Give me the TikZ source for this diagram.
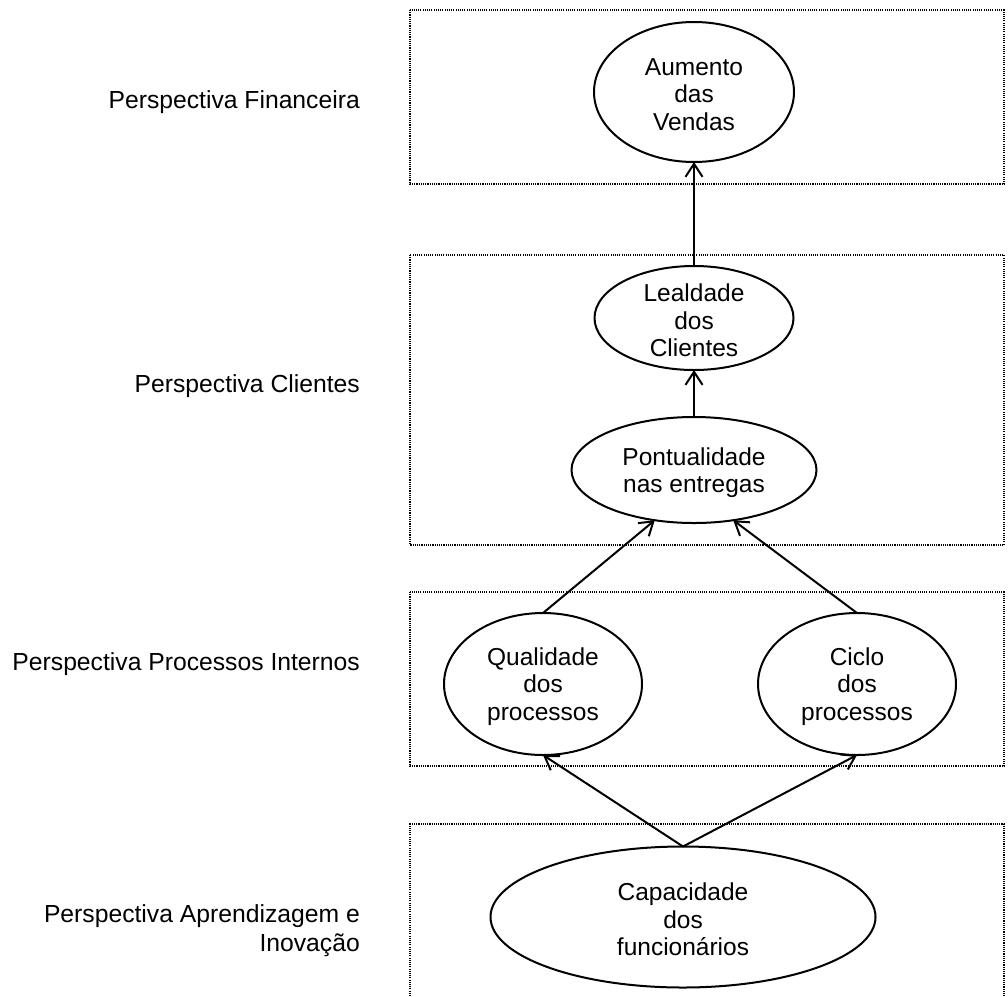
\documentclass[tikz,border=0pt]{standalone}
\usepackage{fontspec}
\setmainfont{Liberation Sans}
\usetikzlibrary{shapes.geometric,arrows.meta}

\tikzset{
  txt/.style={font=\fontsize{24.5}{27.5}\selectfont, align=center, inner sep=0pt, yshift=-2.5pt},
  side/.style={font=\fontsize{24.7}{29}\selectfont, align=right, anchor=east, inner sep=0pt},
  goal/.style={draw, ellipse, line width=2pt, inner sep=0pt, outer sep=0pt},
  band/.style={line width=1.3pt, dash pattern=on 1.1pt off 1.1pt},
  link/.style={line width=2pt, -{Straight Barb[length=13pt,width=17pt]}}
}

\begin{document}
\begin{tikzpicture}[x=1pt,y=-1pt]
\useasboundingbox (0,0) rectangle (1008,996);

% perspective bands
\draw[band] (410,10) rectangle (1004,184);
\draw[band] (410,255) rectangle (1004,545);
\draw[band] (410,592) rectangle (1004,766);
\draw[band] (410,996) -- (410,824) -- (1004,824) -- (1004,996);

% perspective titles
\node[side] (pfin) at (360,102) {Perspectiva Financeira};
\node[side] (pcli) at (360,386) {Perspectiva Clientes};
\node[side] (ppro) at (360,664) {Perspectiva Processos Internos};
\node[side] (papr) at (360,931) {Perspectiva Aprendizagem e\\Inovação};

% objectives
\node[goal, minimum width=200, minimum height=140] (aum) at (694,92) {};
\node[txt] (aumt) at (aum.center) {Aumento\\das\\Vendas};

\node[goal, minimum width=199, minimum height=104] (leal) at (694,318) {};
\node[txt] (lealt) at (leal.center) {Lealdade\\dos\\Clientes};

\node[goal, minimum width=245, minimum height=106] (pont) at (694,470) {};
\node[txt] (pontt) at (pont.center) {Pontualidade\\nas entregas};

\node[goal, minimum width=198, minimum height=142] (qual) at (543,684) {};
\node[txt] (qualt) at (qual.center) {Qualidade\\dos\\processos};

\node[goal, minimum width=198, minimum height=142] (cic) at (857,684) {};
\node[txt] (cict) at (cic.center) {Ciclo\\dos\\processos};

\node[goal, minimum width=385, minimum height=141] (cap) at (683,917) {};
\node[txt] (capt) at (cap.center) {Capacidade\\dos\\funcionários};

% cause and effect links
\draw[link] (leal.north) -- (aum.south);
\draw[link] (pont.north) -- (leal.south);
\draw[link] (qual.north) -- (pont.232);
\draw[link] (cic.north) -- (pont.308);
\draw[link] (cap.north) -- (qual.south);
\draw[link] (cap.north) -- (cic.south);
\end{tikzpicture}
\end{document}
